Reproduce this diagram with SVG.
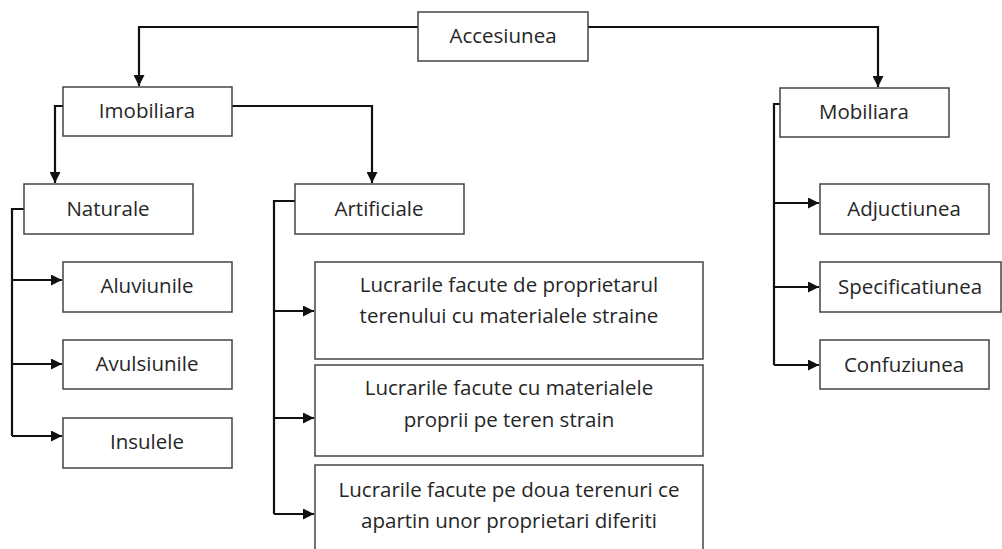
<svg xmlns="http://www.w3.org/2000/svg" width="1002" height="549" viewBox="0 0 1002 549">
<defs>
<marker id="ah" viewBox="0 0 10 10" refX="10" refY="5" markerWidth="11" markerHeight="11" markerUnits="userSpaceOnUse" orient="auto">
<path d="M0,0 L10,5 L0,10 z" fill="#111"/>
</marker>
<style>
.box{fill:#fff;stroke:#444;stroke-width:1.5}
.t{font-family:"Open Sans","Liberation Sans",sans-serif;font-size:20.5px;fill:#262626;text-anchor:middle}
.c{fill:none;stroke:#111;stroke-width:2.2;marker-end:url(#ah)}
.l{fill:none;stroke:#111;stroke-width:2.2}
</style>
</defs>
<rect width="1002" height="549" fill="#fff"/>
<g id="connectors">
<path class="c" d="M418,27 H139 V86"/>
<path class="c" d="M588,27 H878 V87"/>
<path class="c" d="M63,106 H55 V183"/>
<path class="c" d="M232,106 H372 V183"/>
<path class="l" d="M24,209 H12 V436"/>
<path class="c" d="M12,280 H62"/>
<path class="c" d="M12,364 H62"/>
<path class="c" d="M12,436 H62"/>
<path class="l" d="M295,201 H274 V514"/>
<path class="c" d="M274,311 H314"/>
<path class="c" d="M274,418 H314"/>
<path class="c" d="M274,514 H314"/>
<path class="l" d="M780,104 H774 V365"/>
<path class="c" d="M774,203 H819"/>
<path class="c" d="M774,287 H819"/>
<path class="c" d="M774,365 H819"/>
</g>
<g id="accesiunea"><rect class="box" x="418" y="12" width="170" height="49"/><text class="t" x="503" y="43">Accesiunea</text></g>
<g id="imobiliara"><rect class="box" x="63" y="87" width="169" height="49"/><text class="t" x="147" y="118">Imobiliara</text></g>
<g id="mobiliara"><rect class="box" x="780" y="88" width="169" height="49"/><text class="t" x="864" y="119">Mobiliara</text></g>
<g id="naturale"><rect class="box" x="24" y="184" width="169" height="50"/><text class="t" x="108" y="216">Naturale</text></g>
<g id="artificiale"><rect class="box" x="295" y="184" width="169" height="50"/><text class="t" x="379" y="216">Artificiale</text></g>
<g id="aluviunile"><rect class="box" x="63" y="262" width="169" height="50"/><text class="t" x="147" y="293">Aluviunile</text></g>
<g id="avulsiunile"><rect class="box" x="63" y="340" width="169" height="49"/><text class="t" x="147" y="371">Avulsiunile</text></g>
<g id="insulele"><rect class="box" x="63" y="418" width="169" height="50"/><text class="t" x="147" y="449">Insulele</text></g>
<g id="lucrari1"><rect class="box" x="315" y="262" width="388" height="97"/><text class="t" x="509" y="292">Lucrarile facute de proprietarul</text><text class="t" x="509" y="323">terenului cu materialele straine</text></g>
<g id="lucrari2"><rect class="box" x="315" y="365" width="388" height="91"/><text class="t" x="509" y="395">Lucrarile facute cu materialele</text><text class="t" x="509" y="427">proprii pe teren strain</text></g>
<g id="lucrari3"><rect class="box" x="315" y="465" width="388" height="100"/><text class="t" x="509" y="497">Lucrarile facute pe doua terenuri ce</text><text class="t" x="509" y="528">apartin unor proprietari diferiti</text></g>
<g id="adjuctiunea"><rect class="box" x="820" y="184" width="169" height="50"/><text class="t" x="904" y="216">Adjuctiunea</text></g>
<g id="specificatiunea"><rect class="box" x="820" y="262" width="181" height="50"/><text class="t" x="910" y="294">Specificatiunea</text></g>
<g id="confuziunea"><rect class="box" x="820" y="340" width="169" height="49"/><text class="t" x="904" y="372">Confuziunea</text></g>
</svg>
